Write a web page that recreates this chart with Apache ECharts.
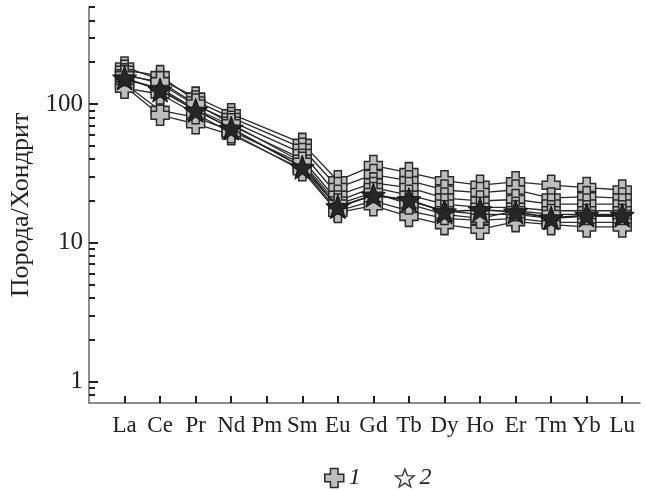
<!DOCTYPE html>
<html>
<head>
<meta charset="utf-8">
<script src="https://cdn.jsdelivr.net/npm/echarts@6/dist/echarts.min.js"></script>
<style>
  html, body { margin: 0; padding: 0; background: #fff; }
  #chart { width: 646px; height: 490px; }
</style>
</head>
<body>
<div id="chart"></div>
<script>
// элементы (Pm нет данных)
var elements = ['La', 'Ce', 'Pr', 'Nd', 'Pm', 'Sm', 'Eu', 'Gd', 'Tb', 'Dy', 'Ho', 'Er', 'Tm', 'Yb', 'Lu'];

// группа 1 (кресты)
var rock1a = [185, 150, 112, 85, null, 52, 28, 36, 32, 28, 26, 27.5, 26, 25, 24];
var rock1b = [175, 160, 105, 80, null, 48, 25, 31, 28, 24, 23, 24, 21, 21.5, 21];
var rock1c = [165, 140, 98, 75, null, 44, 22, 27, 25, 21, 20, 20.5, 19, 19, 19];
var rock1d = [150, 130, 92, 70, null, 40, 20, 25, 22, 19, 18, 18, 17, 17, 17];
var rock1e = [140, 90, 80, 64, null, 37, 18, 22, 20, 17, 16, 16, 15, 15.5, 15.5];
var rock1f = [135, 83, 72, 60, null, 34, 17, 20, 17, 15, 14.5, 15, 14, 14, 14];
var rock1g = [130, 118, 85, 62, null, 33, 16.5, 18.5, 15.5, 13.5, 12.5, 14.2, 13.5, 13, 13];
var rock1h = [160, 145, 100, 72, null, 38, 19, 23, 19, 16, 15, 17, 16, 16, 16];
var group1 = [rock1a, rock1b, rock1c, rock1d, rock1e, rock1f, rock1g, rock1h];

// группа 2 (звезда)
var rock2 = [154, 126, 90, 67, null, 35, 18.2, 22, 20.4, 16.7, 17.3, 16.7, 15.1, 15.8, 15.8];

var yMajor = [1, 10, 100];
var yMinor = [0.8, 0.9, 2, 3, 4, 5, 6, 7, 8, 9, 20, 30, 40, 50, 60, 70, 80, 90, 200, 300, 400, 500];

var serif = '"Liberation Serif", "DejaVu Serif", serif';
var crossPath = 'path://M3,0H7V3H10V7H7V10H3V7H0V3H3Z';

function makeStar() {
  var pts = [];
  for (var k = 0; k < 10; k++) {
    var r = k % 2 === 0 ? 10 : 4.2;
    var a = -Math.PI / 2 + k * Math.PI / 5;
    pts.push((10 + r * Math.cos(a)).toFixed(2) + ',' + (10 + r * Math.sin(a)).toFixed(2));
  }
  return 'path://M' + pts.join('L') + 'Z';
}
var starPath = makeStar();

function toPairs(arr) {
  return arr.map(function (v, i) { return [i, v]; });
}

var idx = elements.map(function (e, i) { return i; });

var series = [];
for (var i = 0; i < group1.length; i++) {
  series.push({
    name: '1',
    type: 'line',
    data: toPairs(group1[i]),
    connectNulls: true,
    symbol: crossPath,
    symbolSize: [18, 20],
    lineStyle: { color: '#2a2a2a', width: 1.3 },
    itemStyle: { color: '#bdbdbd', borderColor: '#2a2a2a', borderWidth: 1.5 },
    z: 2
  });
}
series.push({
  name: '2',
  type: 'line',
  data: toPairs(rock2),
  connectNulls: true,
  symbol: starPath,
  symbolSize: 24,
  lineStyle: { color: '#1e1e1e', width: 1.6 },
  itemStyle: { color: '#262626', borderColor: '#111', borderWidth: 1 },
  z: 3
});

var chart = echarts.init(document.getElementById('chart'));
chart.setOption({
  animation: false,
  grid: { left: 89, right: 6, top: 7, bottom: 87 },
  legend: {
    top: 466,
    left: 324,
    padding: 0,
    itemWidth: 19,
    itemHeight: 21,
    itemGap: 34,
    textStyle: { fontFamily: serif, fontSize: 24, fontStyle: 'italic', color: '#222' },
    data: [
      { name: '1', icon: crossPath, itemStyle: { color: '#bdbdbd', borderColor: '#2a2a2a', borderWidth: 1.5 } },
      { name: '2', icon: starPath, itemStyle: { color: '#f2f2f2', borderColor: '#333', borderWidth: 1.3 } }
    ]
  },
  xAxis: {
    type: 'value',
    min: -1,
    max: 14.5,
    splitLine: { show: false },
    axisLine: { lineStyle: { color: '#666', width: 1.5 } },
    axisTick: { inside: true, length: 7, customValues: idx, lineStyle: { color: '#222', width: 2 } },
    axisLabel: {
      customValues: idx,
      formatter: function (v) { return elements[v] || ''; },
      fontFamily: serif, fontSize: 23, color: '#222', margin: 11
    }
  },
  yAxis: [
    {
      type: 'log',
      logBase: 10,
      min: 0.7,
      max: 500,
      name: 'Порода/Хондрит',
      nameLocation: 'middle',
      nameGap: 48,
      nameTextStyle: { fontFamily: serif, fontSize: 26, color: '#222' },
      splitLine: { show: false },
      axisLine: { show: true, onZero: false, lineStyle: { color: '#666', width: 1.5 } },
      axisTick: { inside: true, length: 9, customValues: yMajor, lineStyle: { color: '#222', width: 2 } },
      axisLabel: {
        customValues: yMajor,
        fontFamily: serif, fontSize: 25, color: '#222', margin: 6
      }
    },
    {
      type: 'log',
      logBase: 10,
      min: 0.7,
      max: 500,
      position: 'left',
      offset: 0,
      splitLine: { show: false },
      axisLine: { show: false, onZero: false },
      axisTick: { inside: true, length: 6, customValues: yMinor, lineStyle: { color: '#222', width: 2 } },
      axisLabel: { show: false }
    }
  ],
  series: series
});
</script>
</body>
</html>
